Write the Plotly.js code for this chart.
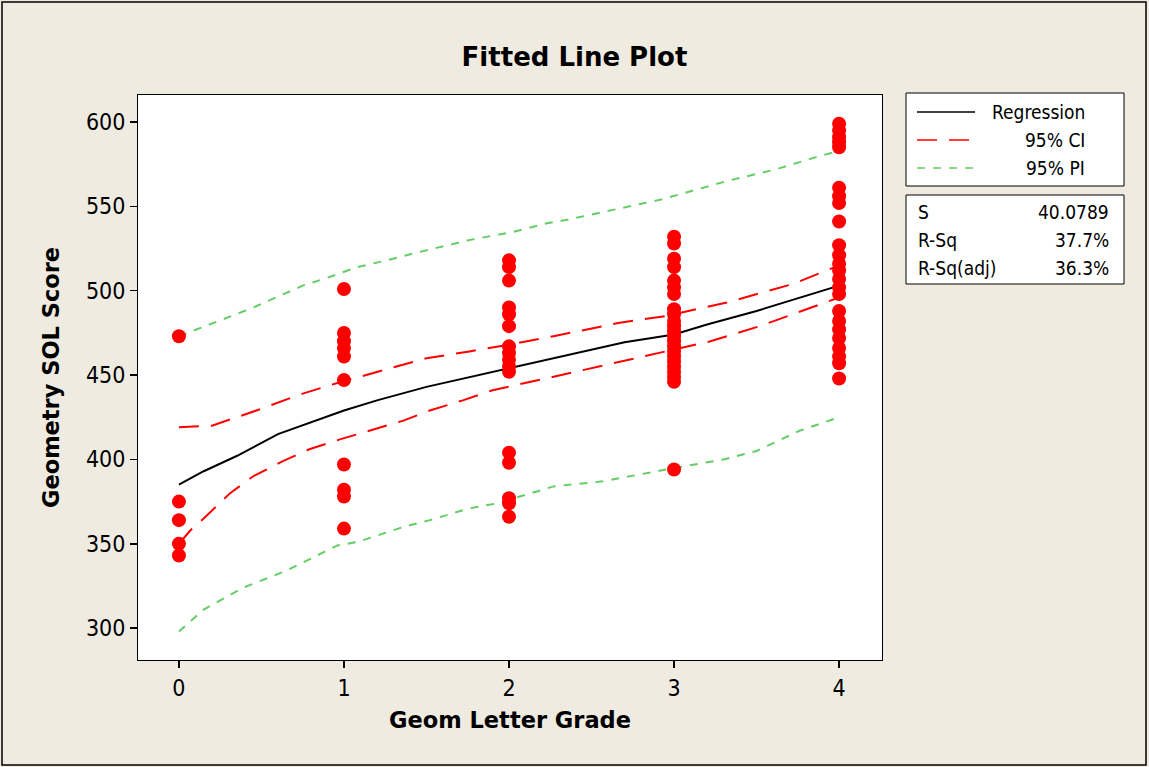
<!DOCTYPE html>
<html>
<head>
<meta charset="utf-8">
<script src="https://cdn.plot.ly/plotly-3.0.1.min.js"></script>
<style>
html,body{margin:0;padding:0;background:#EFEBE1;}
#chart{width:1149px;height:767px;}
</style>
</head>
<body>
<div id="chart"></div>
<script>
// ---- data ----
const grade0 = [473, 375, 364, 350, 343];
const grade1 = [501, 475, 470, 466, 461, 447, 397, 382, 378, 359];
const grade2 = [518, 514, 506, 490, 486, 479, 467, 463, 459, 455, 452, 404, 398, 377, 374, 366];
const grade3 = [532, 528, 519, 514, 506, 502, 498, 489, 486, 482, 479, 476, 473, 470, 467, 464, 461, 458, 455, 452, 449, 446, 394];
const grade4 = [599, 595, 591, 588, 585, 561, 556, 552, 541, 527, 521, 516, 512, 507, 502, 498, 488, 482, 477, 472, 466, 461, 457, 448];

const regX = [0, 0.15, 0.35, 0.6, 1.0, 1.2, 1.5, 2.0, 2.3, 2.5, 2.7, 3.0, 3.2, 3.5, 3.8, 4.0];
const regY = [385, 393, 402, 415, 429, 435, 443, 454, 461, 465, 469.5, 474, 480, 488, 497, 503];

const ciUpX = [0, 0.2, 0.47, 0.75, 0.95, 1.2, 1.5, 1.76, 2.0, 2.27, 2.67, 2.95, 3.32, 3.72, 3.87, 4.0];
const ciUpY = [419, 420, 429, 439, 445, 452, 460, 464, 468, 473, 481, 485, 493, 504, 510, 515];

const ciLoX = [0, 0.07, 0.15, 0.31, 0.45, 0.63, 0.79, 0.98, 1.36, 1.52, 1.72, 1.9, 2.27, 2.67, 2.95, 3.22, 3.52, 3.86, 4.0];
const ciLoY = [350, 358, 365, 380, 390, 399, 406, 412, 423, 429, 435, 441, 449, 458, 464, 470, 479, 491, 496];

const piUpX = [0, 0.19, 0.45, 0.75, 0.88, 1.08, 1.26, 1.46, 1.76, 2.03, 2.23, 2.35, 2.92, 3.32, 3.62, 3.82, 4.0];
const piUpY = [473, 480, 490, 503, 507, 514, 518, 523, 530, 535, 540, 542, 554, 565, 572, 578, 583];

const piLoX = [0, 0.15, 0.39, 0.65, 0.96, 1.08, 1.36, 1.52, 1.76, 1.93, 2.27, 2.57, 2.95, 3.3, 3.5, 3.76, 4.0];
const piLoY = [298, 311, 324, 334, 349, 351, 360, 364, 371, 374, 384, 387, 394, 400, 405, 417, 425];

const xTicks = [0, 1, 2, 3, 4];
const yTicks = [300, 350, 400, 450, 500, 550, 600];

const legendLabels = ["Regression", "95% CI", "95% PI"];
const statNames = ["S", "R-Sq", "R-Sq(adj)"];
const statValues = ["40.0789", "37.7%", "36.3%"];

// ---- build traces ----
const scatterX = [];
const scatterY = [];
[grade0, grade1, grade2, grade3, grade4].forEach((arr, g) => {
  arr.forEach(v => { scatterX.push(g); scatterY.push(v); });
});

const FONT = "DejaVu Sans Condensed, DejaVu Sans, sans-serif";
const BOLDFONT = "DejaVu Sans, sans-serif";
const GREEN = "#66CC66";
const RED = "#FF0000";

const traces = [
  {x: piUpX, y: piUpY, mode: "lines", line: {color: GREEN, width: 2, dash: "8px,8px"}, showlegend: false, hoverinfo: "skip"},
  {x: piLoX, y: piLoY, mode: "lines", line: {color: GREEN, width: 2, dash: "8px,8px"}, showlegend: false, hoverinfo: "skip"},
  {x: ciUpX, y: ciUpY, mode: "lines", line: {color: RED, width: 2, dash: "20px,12px"}, showlegend: false, hoverinfo: "skip"},
  {x: ciLoX, y: ciLoY, mode: "lines", line: {color: RED, width: 2, dash: "20px,12px"}, showlegend: false, hoverinfo: "skip"},
  {x: regX, y: regY, mode: "lines", line: {color: "#000000", width: 2}, showlegend: false, hoverinfo: "skip"},
  {x: scatterX, y: scatterY, mode: "markers", marker: {color: RED, size: 14}, showlegend: false}
];

// ---- pixel helpers for annotation/shape placement ----
const L = 138, R = 882, T = 95, B = 660;
const px = x => (x - L) / (R - L);
const py = y => (B - y) / (B - T);

const shapes = [
  {type: "rect", xref: "paper", yref: "paper", x0: px(2), x1: px(1146), y0: py(765), y1: py(2), line: {color: "#000", width: 1.5}},
  {type: "rect", xref: "paper", yref: "paper", x0: px(906), x1: px(1124), y0: py(186), y1: py(93), line: {color: "#000", width: 1}, fillcolor: "#FFFFFF", layer: "below"},
  {type: "rect", xref: "paper", yref: "paper", x0: px(906), x1: px(1124), y0: py(284), y1: py(195), line: {color: "#000", width: 1}, fillcolor: "#FFFFFF", layer: "below"},
  {type: "line", xref: "paper", yref: "paper", x0: px(917), x1: px(975), y0: py(112), y1: py(112), line: {color: "#000", width: 1.5}},
  {type: "line", xref: "paper", yref: "paper", x0: px(917), x1: px(975), y0: py(140), y1: py(140), line: {color: RED, width: 1.5, dash: "20px,12px"}},
  {type: "line", xref: "paper", yref: "paper", x0: px(917), x1: px(976), y0: py(168), y1: py(168), line: {color: GREEN, width: 1.5, dash: "8px,8px"}}
];

const annFont = {family: FONT, size: 19, color: "#000"};
const annotations = [];
const legY = [112, 140, 168];
legendLabels.forEach((t, i) => {
  annotations.push({text: t, xref: "paper", yref: "paper", x: px(1087), y: py(legY[i]), xanchor: "right", yanchor: "middle", showarrow: false, font: annFont});
});
const statY = [212, 240, 268];
statNames.forEach((t, i) => {
  annotations.push({text: t, xref: "paper", yref: "paper", x: px(916), y: py(statY[i]), xanchor: "left", yanchor: "middle", showarrow: false, font: annFont});
  annotations.push({text: statValues[i], xref: "paper", yref: "paper", x: px(1111), y: py(statY[i]), xanchor: "right", yanchor: "middle", showarrow: false, font: annFont});
});

const layout = {
  width: 1149, height: 767,
  paper_bgcolor: "#EFEBE1",
  plot_bgcolor: "#FFFFFF",
  margin: {l: L, r: 1149 - R, t: T, b: 767 - B, pad: 0},
  showlegend: false,
  title: {text: "<b>Fitted Line Plot</b>", xref: "container", yref: "container", x: 0.5, y: 1 - 57 / 767, xanchor: "center", yanchor: "middle", font: {family: BOLDFONT, size: 26, color: "#000"}},
  xaxis: {
    range: [-0.248, 4.26], tickvals: xTicks, ticktext: xTicks.map(String),
    showgrid: false, zeroline: false, showline: true, mirror: true, linecolor: "#000", linewidth: 1,
    ticks: "outside", ticklen: 7, tickcolor: "#000", tickwidth: 1.5,
    tickfont: {family: FONT, size: 23, color: "#000"},
    title: {text: "<b>Geom Letter Grade</b>", font: {family: BOLDFONT, size: 22.5, color: "#000"}, standoff: 12}
  },
  yaxis: {
    range: [281.1, 616], tickvals: yTicks, ticktext: yTicks.map(String),
    showgrid: false, zeroline: false, showline: true, mirror: true, linecolor: "#000", linewidth: 1,
    ticks: "outside", ticklen: 7, tickcolor: "#000", tickwidth: 1.5,
    tickfont: {family: FONT, size: 23, color: "#000"},
    title: {text: "<b>Geometry SOL Score</b>", font: {family: BOLDFONT, size: 22.5, color: "#000"}, standoff: 20}
  },
  shapes: shapes,
  annotations: annotations
};

Plotly.newPlot("chart", traces, layout, {displayModeBar: false, staticPlot: true});
</script>
</body>
</html>
